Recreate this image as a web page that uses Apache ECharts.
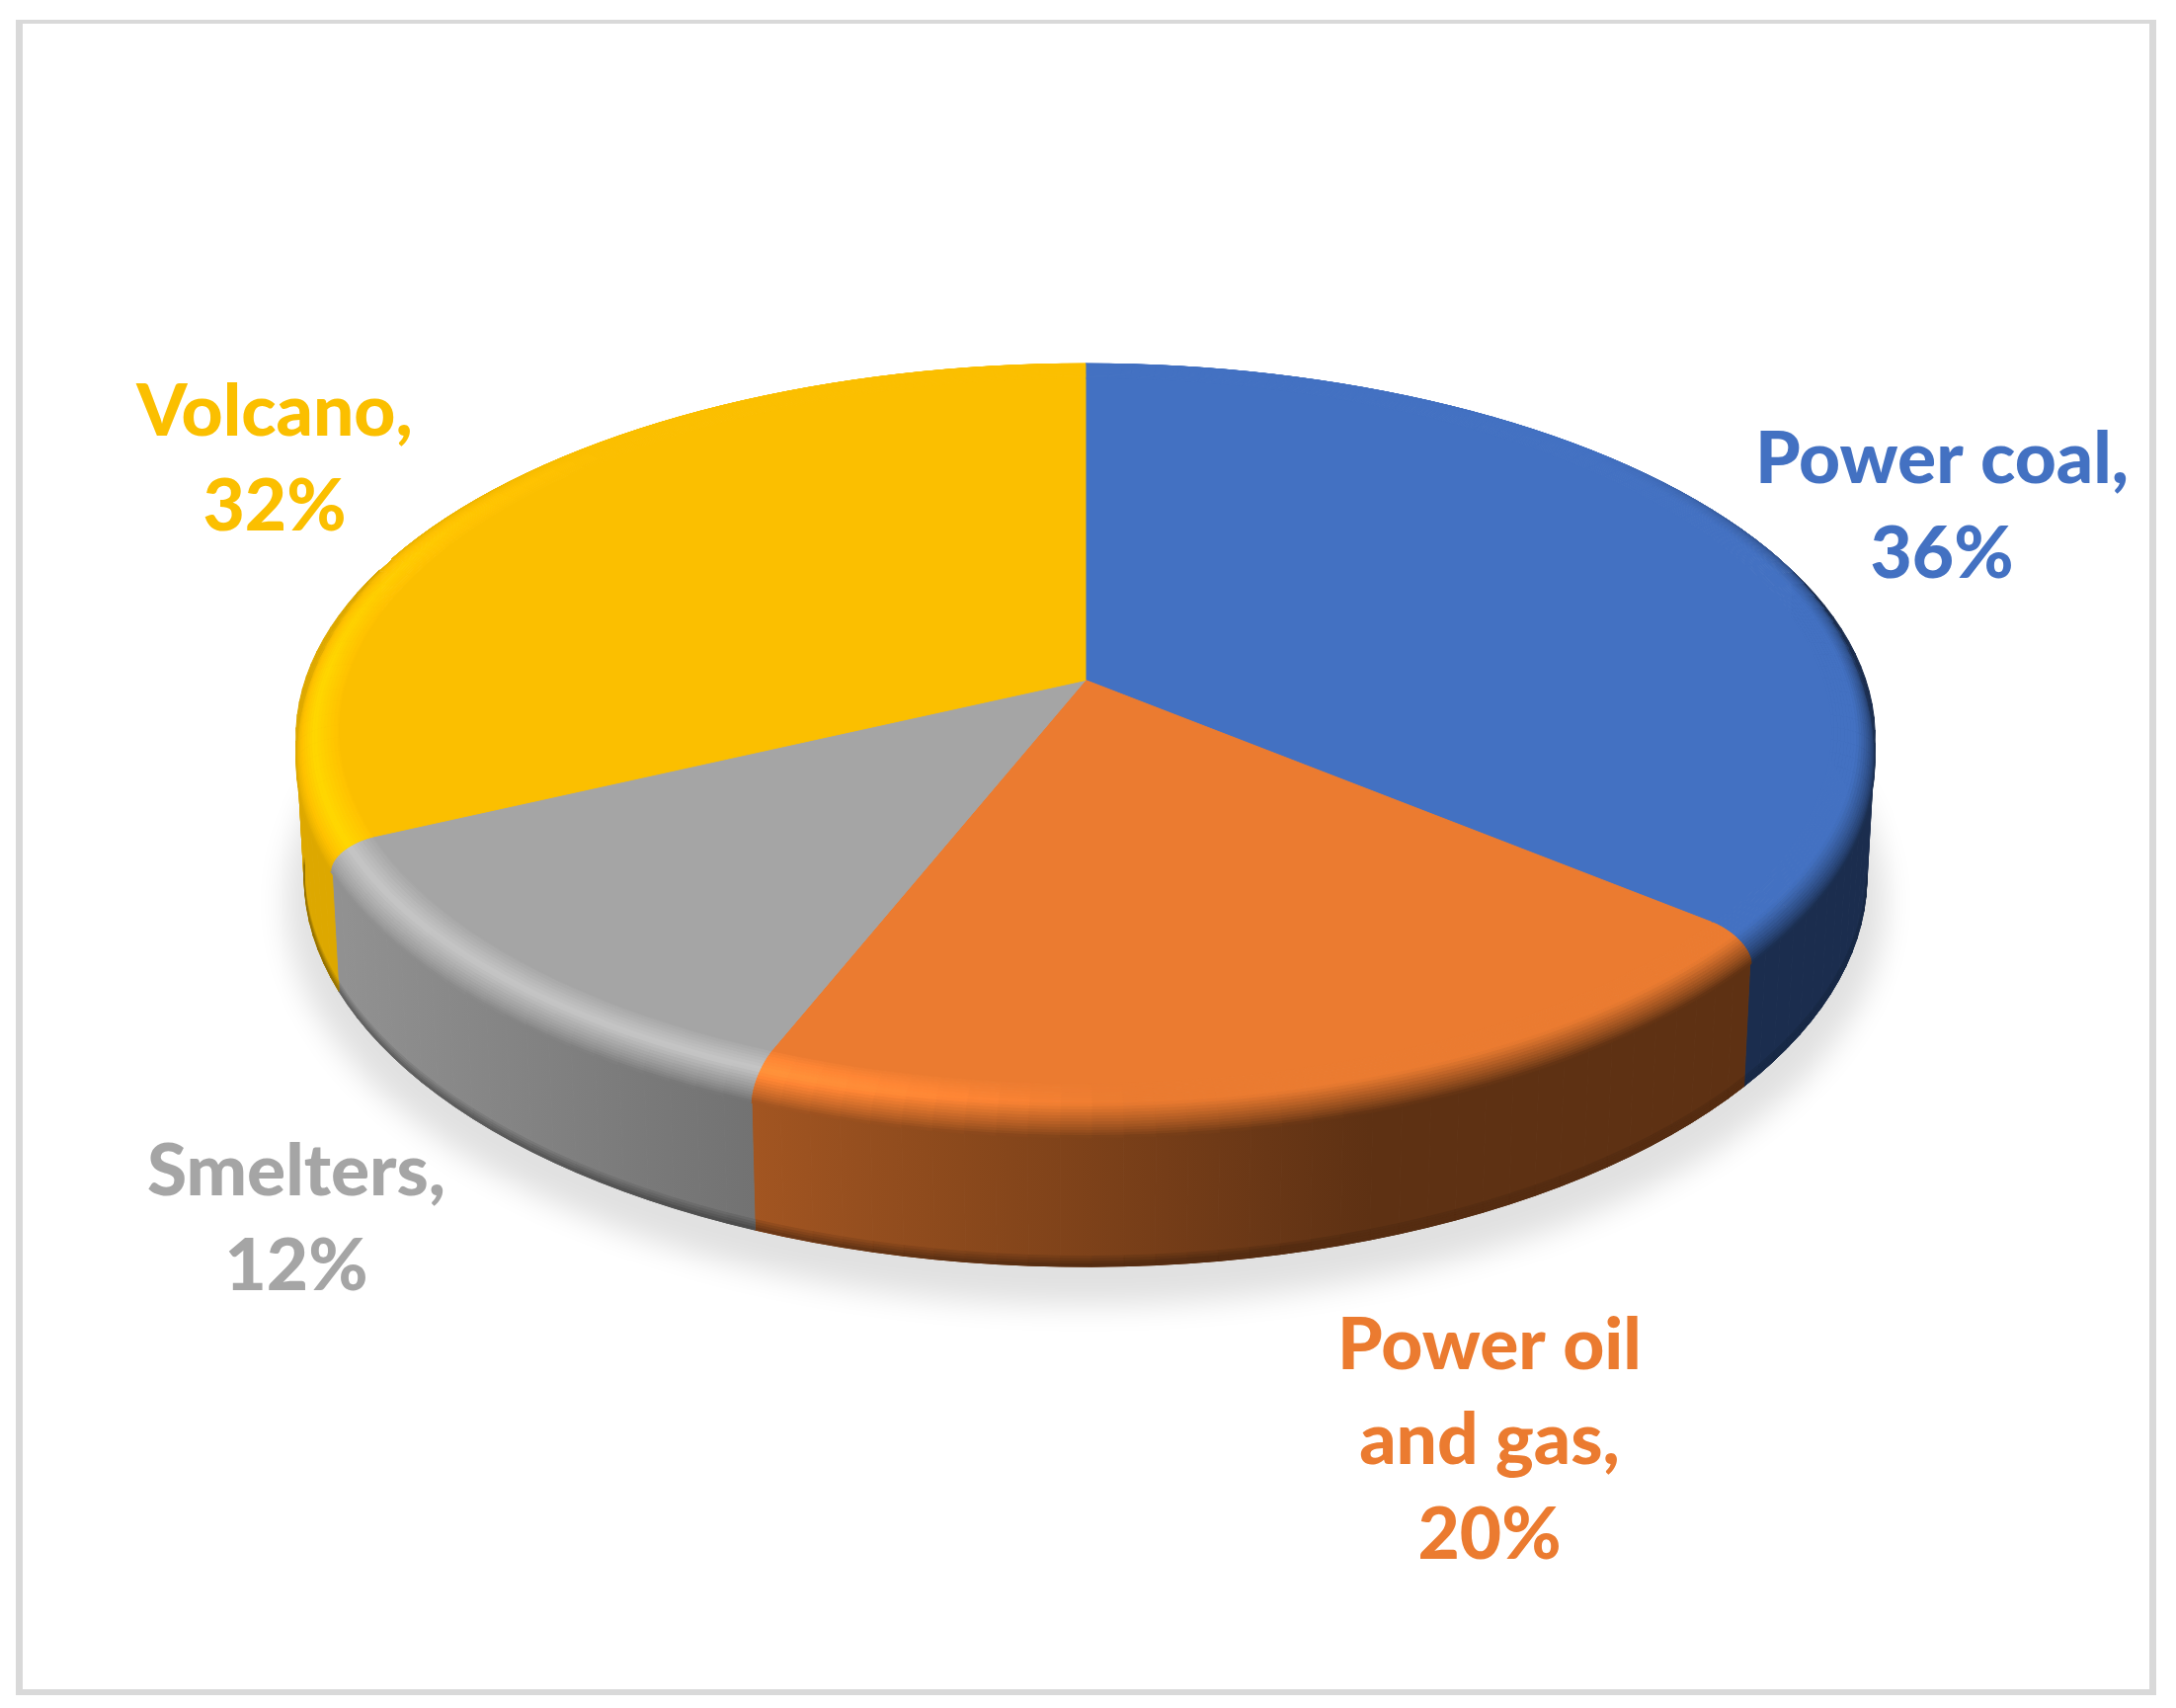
<!DOCTYPE html>
<html>
<head>
<meta charset="utf-8">
<style>
  html, body { margin: 0; padding: 0; background: #fff; }
  #chart { width: 2203px; height: 1729px; }
</style>
<script src="https://cdn.jsdelivr.net/npm/echarts@6/dist/echarts.min.js"></script>
</head>
<body>
<div id="chart"></div>
<script>
const categories = ['Power coal', 'Power oil\nand gas', 'Smelters', 'Volcano'];
const shares = [36, 20, 12, 32];
const sliceColors = ['#4371c2', '#eb7b30', '#a5a5a5', '#fbbf00'];
const highlightStrength = [1, 1, 1, 0.65];
const labelCenters = [[1966, 513], [1508, 1458], [300, 1234], [278, 465]];

// tilted disc, the numbers come from measuring the rim in the picture
const cx = 1099, cy = 688.5, radius = 790, tilt = 369, persp = 0.152;
const thickness = 139, topRadius = 0.945, bevelDrop = 24, bottomScale = 0.99;

const total = shares.reduce((a, b) => a + b, 0);
const startAngles = [];
shares.reduce((sum, v, i) => {
  startAngles[i] = sum / total * Math.PI * 2;
  return sum + v;
}, 0);

function project(r, angle, drop) {
  let x = r * Math.sin(angle);
  let y = -r * Math.cos(angle);
  let s = 1 / (1 - persp * y);
  return [cx + radius * x * s, cy + tilt * y * s + drop * s];
}

function clamp(v, a, b) {
  return Math.max(a, Math.min(b, v));
}

// side brightness only depends on screen x
function sideFactor(x) {
  return clamp(0.88 - 0.48 * (x - 350) / 1037, 0.4, 0.88);
}

function highlightFactor(x) {
  return clamp(1.2 - 0.2 * (x - 800) / 350, 1, 1.2);
}

function shade(hex, f) {
  let n = parseInt(hex.slice(1), 16);
  let c = [n >> 16, (n >> 8) & 255, n & 255].map(v => Math.round(clamp(v * f, 0, 255)));
  return 'rgb(' + c.join(',') + ')';
}

function arcAngles(i, value) {
  let start = startAngles[i];
  let sweep = value / total * Math.PI * 2;
  let steps = Math.ceil(sweep / (Math.PI / 90));
  let list = [];
  for (let k = 0; k <= steps; k++) {
    list.push(start + sweep * k / steps);
  }
  return list;
}

function poly(points, fill) {
  return { type: 'polygon', shape: { points: points }, style: { fill: fill, stroke: fill, lineWidth: 1 } };
}

function renderShadow(params) {
  if (params.dataIndex !== 0) return null;
  // only the blur is wanted, so the shape itself sits off the page
  let away = 3000;
  let points = [];
  for (let k = 0; k < 240; k++) {
    let p = project(1.012, k / 240 * Math.PI * 2, thickness + 23);
    points.push([p[0] - away, p[1]]);
  }
  return {
    type: 'polygon',
    shape: { points: points },
    style: { fill: '#000', shadowBlur: 30, shadowOffsetX: away, shadowColor: 'rgba(0,0,0,0.12)' }
  };
}

function renderWall(params, api) {
  let i = params.dataIndex;
  let angles = arcAngles(i, api.value(0));
  let stops = [];
  for (let k = 0; k <= 10; k++) {
    stops.push({ offset: k / 10, color: shade(sliceColors[i], sideFactor(350 + 1037 * k / 10)) });
  }
  let fill = new echarts.graphic.LinearGradient(350, 0, 1387, 0, stops, true);
  let children = [];
  for (let k = 0; k < angles.length - 1; k++) {
    let a = angles[k], b = angles[k + 1];
    if (Math.cos(a) > 0.3 && Math.cos(b) > 0.3) continue;
    children.push({
      type: 'polygon',
      shape: { points: [project(1, a, 0), project(1, b, 0), project(bottomScale, b, thickness), project(bottomScale, a, thickness)] },
      style: { fill: fill, stroke: fill, lineWidth: 1 }
    });
  }
  // darker lip along the lower edge
  let rows = 4;
  for (let row = 0; row < rows; row++) {
    let z0 = thickness - 9 + 9 * row / rows;
    let z1 = thickness - 9 + 9 * (row + 1) / rows;
    for (let k = 0; k < angles.length - 1; k++) {
      let a = angles[k], b = angles[k + 1];
      if (Math.cos(a) > -0.15) continue;
      let p = project(bottomScale, a, z0);
      let f = sideFactor(p[0]) * (1 - 0.32 * (row + 1) / rows);
      children.push(poly([p, project(bottomScale, b, z0), project(bottomScale, b, z1), project(bottomScale, a, z1)], shade(sliceColors[i], Math.max(f, 0.36))));
    }
  }
  return { type: 'group', children: children };
}

function renderBevel(params, api) {
  let i = params.dataIndex;
  let angles = arcAngles(i, api.value(0));
  let rows = 20;
  let children = [];
  for (let row = 0; row < rows; row++) {
    let t0 = row / rows, t1 = (row + 1) / rows, tm = (t0 + t1) / 2;
    for (let k = 0; k < angles.length - 1; k++) {
      let a = angles[k], b = angles[k + 1];
      // the lip only shows on the part of the rim facing the viewer
      let front = clamp((-Math.cos(a) + 0.35) / 0.6, 0, 1);
      let edge = clamp((-Math.cos(a) + 0.7) / 0.7, 0, 1);
      let at = (angle, t) => project(
        topRadius + (1 - topRadius) * Math.sin(t * Math.PI / 2),
        angle,
        bevelDrop * front * (1 - Math.cos(t * Math.PI / 2))
      );
      let p = at(a, tm);
      let h = 1 + (highlightFactor(p[0]) - 1) * edge * highlightStrength[i];
      let f = 1 + (sideFactor(p[0]) - 1) * edge;
      let c = tm < 0.4 ? 1 + (h - 1) * tm / 0.4 : h + (f - h) * (tm - 0.4) / 0.6;
      children.push(poly([at(a, t0), at(b, t0), at(b, t1), at(a, t1)], shade(sliceColors[i], c)));
    }
  }
  return { type: 'group', children: children };
}

function renderTop(params, api) {
  let i = params.dataIndex;
  let points = [[cx, cy]].concat(arcAngles(i, api.value(0)).map(a => project(topRadius + 0.001, a, 0)));
  return poly(points, sliceColors[i]);
}

function renderLabel(params, api) {
  let i = params.dataIndex;
  return {
    type: 'text',
    style: {
      text: categories[i] + ',\n' + api.value(0) + '%',
      x: labelCenters[i][0],
      y: labelCenters[i][1],
      fill: sliceColors[i],
      fontFamily: 'Lato',
      fontWeight: 900,
      fontSize: 73,
      lineHeight: 96,
      align: 'center',
      verticalAlign: 'middle'
    }
  };
}

const seriesData = shares.map((v, i) => ({ name: categories[i], value: v }));
const layers = [renderShadow, renderWall, renderBevel, renderTop, renderLabel];

let myChart = echarts.init(document.getElementById('chart'));
myChart.setOption({
  animation: false,
  graphic: [
    { type: 'rect', silent: true, z: -2, shape: { x: 16, y: 20, width: 2167, height: 1696 }, style: { fill: '#d9d9d9' } },
    { type: 'rect', silent: true, z: -1, shape: { x: 23, y: 24, width: 2153, height: 1686 }, style: { fill: '#fff' } }
  ],
  series: layers.map((fn, idx) => ({
    type: 'custom',
    coordinateSystem: 'none',
    silent: true,
    z: idx + 2,
    renderItem: fn,
    data: seriesData
  }))
});
</script>
</body>
</html>
